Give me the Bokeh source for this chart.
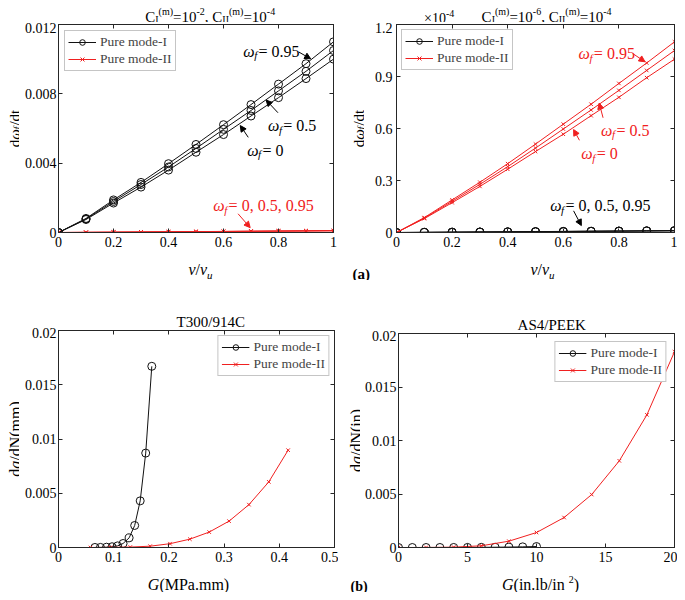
import math
from bokeh.plotting import figure
from bokeh.models import (Label, Arrow, NormalHead, LinearAxis, FixedTicker,
                          Range1d, Legend, LegendItem)
from bokeh.layouts import column, row
from bokeh.embed import file_html
from bokeh.resources import INLINE

# ---------------- data ----------------
v_ratio = [0.0, 0.1, 0.2, 0.3, 0.4, 0.5, 0.6, 0.7, 0.8, 0.9, 1.0]

# (a) left panel: C_I(m)=1e-2, C_II(m)=1e-4  (absolute values)
a1_modeI_w0 = [0, 0.00075, 0.00170, 0.00262, 0.00360, 0.00463, 0.00565, 0.00672, 0.00778, 0.00888, 0.01000]
a1_modeI_w05 = [0, 0.00078, 0.00179, 0.00277, 0.00378, 0.00485, 0.00595, 0.00704, 0.00817, 0.00930, 0.01050]
a1_modeI_w095 = [0, 0.00081, 0.00188, 0.00289, 0.00397, 0.00508, 0.00622, 0.00738, 0.00856, 0.00974, 0.01100]
a1_modeII_w0 = [0, 8.0e-6, 1.72e-5, 2.66e-5, 3.65e-5, 4.67e-5, 5.67e-5, 6.74e-5, 7.80e-5, 8.93e-5, 1.00e-4]
a1_modeII_w05 = [0, 8.3e-6, 1.80e-5, 2.78e-5, 3.80e-5, 4.87e-5, 5.97e-5, 7.07e-5, 8.20e-5, 9.35e-5, 1.05e-4]
a1_modeII_w095 = [0, 8.6e-6, 1.88e-5, 2.90e-5, 3.97e-5, 5.10e-5, 6.25e-5, 7.40e-5, 8.60e-5, 9.78e-5, 1.10e-4]

# (a) right panel: C_I(m)=1e-6, C_II(m)=1e-4  (values in units of 1e-4)
a2_modeI_w0 = [0, 0.00075, 0.00170, 0.00262, 0.00360, 0.00463, 0.00565, 0.00672, 0.00778, 0.00888, 0.01000]
a2_modeI_w05 = [0, 0.00078, 0.00179, 0.00277, 0.00378, 0.00485, 0.00595, 0.00704, 0.00817, 0.00930, 0.01050]
a2_modeI_w095 = [0, 0.00081, 0.00188, 0.00289, 0.00397, 0.00508, 0.00622, 0.00738, 0.00856, 0.00974, 0.01100]
a2_modeII_w0 = [0, 0.080, 0.172, 0.266, 0.365, 0.467, 0.567, 0.674, 0.780, 0.893, 1.000]
a2_modeII_w05 = [0, 0.083, 0.180, 0.278, 0.380, 0.487, 0.597, 0.707, 0.820, 0.935, 1.050]
a2_modeII_w095 = [0, 0.086, 0.188, 0.290, 0.397, 0.510, 0.625, 0.740, 0.860, 0.978, 1.100]

# (b) left panel: T300/914C
b1_modeI_G = [0.066, 0.076, 0.087, 0.097, 0.107, 0.117, 0.128, 0.138, 0.148, 0.158, 0.169]
b1_modeI_rate = [0.000005, 0.00001, 0.00003, 0.00007, 0.00015, 0.00037, 0.00089, 0.00203, 0.0043, 0.0087, 0.0167]
b1_modeII_G = [0.058, 0.094, 0.130, 0.166, 0.202, 0.238, 0.273, 0.309, 0.345, 0.381, 0.416]
b1_modeII_rate = [0.000001, 0.00001, 0.00004, 0.00012, 0.00035, 0.00077, 0.00142, 0.00243, 0.00395, 0.00605, 0.00897]

# (b) right panel: AS4/PEEK
b2_modeI_G = [0, 1, 2, 3, 4, 5, 6, 7, 8, 9, 10]
b2_modeI_rate = [0, 0, 0.000001, 0.000002, 0.000004, 0.000008, 0.000014, 0.000025, 0.00004, 0.00006, 0.00009]
b2_modeII_G = [0, 2, 4, 6, 8, 10, 12, 14, 16, 18, 20]
b2_modeII_rate = [0, 0.000003, 0.00003, 0.00016, 0.00059, 0.0014, 0.0028, 0.00495, 0.0081, 0.0124, 0.0183]

# ticks
a_x_ticks = [0, 0.2, 0.4, 0.6, 0.8, 1.0]
a_x_labels = ["0", "0.2", "0.4", "0.6", "0.8", "1"]
a1_y_ticks = [0, 0.004, 0.008, 0.012]
a1_y_labels = ["0", "0.004", "0.008", "0.012"]
a2_y_ticks = [0, 0.3, 0.6, 0.9, 1.2]
a2_y_labels = ["0", "0.3", "0.6", "0.9", "1.2"]
b1_x_ticks = [0, 0.1, 0.2, 0.3, 0.4, 0.5]
b1_x_labels = ["0", "0.1", "0.2", "0.3", "0.4", "0.5"]
b2_x_ticks = [0, 5, 10, 15, 20]
b2_x_labels = ["0", "5", "10", "15", "20"]
b_y_ticks = [0, 0.005, 0.01, 0.015, 0.02]
b_y_labels = ["0", "0.005", "0.01", "0.015", "0.02"]

# ---------------- style ----------------
FONT = "Liberation Serif"
AX = "#262626"
RED = "#f02020"
BLK = "#111111"

REG = {' ': 250, '(': 333, ')': 333, ',': 250, '-': 333, '.': 250, '/': 278, '=': 564,
       '\u00d7': 564, 'A': 722, 'C': 667, 'E': 611, 'G': 722, 'I': 333, 'K': 722, 'M': 889,
       'N': 722, 'P': 556, 'S': 556, 'T': 611, 'a': 444, 'b': 500, 'd': 500, 'e': 444,
       'i': 278, 'l': 278, 'm': 778, 'n': 500, 'o': 500, 'r': 333, 't': 278, 'u': 500, 'v': 500}
ITA = {'\u03c9': 680, 'f': 400, 'v': 444, 'u': 500, 'G': 722, 'a': 500}


def tw(s, size, style):
    tab = ITA if "italic" in style else REG
    tot = 0
    for ch in s:
        tot += tab.get(ch, REG.get(ch, 500))
    return tot * size / 1000.0


def runs(p, x, y, pieces, angle=0.0, color="black", align="left"):
    total = sum(tw(t, s, st) for t, s, st, sh in pieces)
    off = -total / 2 if align == "center" else 0.0
    for t, s, st, sh in pieces:
        if angle == 0:
            xo, yo = off, sh
        else:
            xo, yo = -sh, off
        p.add_layout(Label(x=x, y=y, text=t, x_offset=xo, y_offset=yo, angle=angle,
                           text_font=FONT, text_font_size=f"{s}px", text_font_style=st,
                           text_color=color, text_align="left", text_baseline="alphabetic"))
        off += tw(t, s, st)


def strip(w, h):
    s = figure(width=w, height=h, x_range=Range1d(0, w), y_range=Range1d(0, h), title=None,
               x_axis_type=None, y_axis_type=None, output_backend="svg", toolbar_location=None,
               min_border_left=0, min_border_right=0, min_border_top=0, min_border_bottom=0)
    s.outline_line_color = None
    s.background_fill_color = "white"
    s.border_fill_color = "white"
    return s


def style_axis(ax, ticks, labels, show=True, standoff=5):
    ax.ticker = FixedTicker(ticks=ticks, minor_ticks=[])
    ax.major_tick_in = 4
    ax.major_tick_out = 0
    ax.minor_tick_in = 0
    ax.minor_tick_out = 0
    ax.major_tick_line_color = AX
    ax.axis_line_color = AX
    ax.major_label_text_font = FONT
    if show:
        ax.major_label_overrides = {t: l for t, l in zip(ticks, labels)}
        ax.major_label_text_font_size = "14px"
        ax.major_label_text_color = "black"
        ax.major_label_standoff = standoff
    else:
        ax.major_label_overrides = {t: "" for t in ticks}
        ax.major_label_text_font_size = "0px"
        ax.major_label_text_color = None
        ax.major_label_standoff = 0


def make_fig(w, h, xr, yr, bl, br, bt, bb, xt, xl, yt, yl, ystand):
    p = figure(width=w, height=h, x_range=Range1d(*xr), y_range=Range1d(*yr), title=None,
               output_backend="svg", toolbar_location=None,
               min_border_left=bl, min_border_right=br, min_border_top=bt, min_border_bottom=bb)
    p.xgrid.visible = False
    p.ygrid.visible = False
    p.outline_line_color = AX
    p.outline_line_width = 1
    p.outline_line_alpha = 1
    style_axis(p.xaxis[0], xt, xl, True, 4)
    style_axis(p.yaxis[0], yt, yl, True, ystand)
    top = LinearAxis()
    style_axis(top, xt, xl, False)
    p.add_layout(top, "above")
    rgt = LinearAxis()
    style_axis(rgt, yt, yl, False)
    p.add_layout(rgt, "right")
    return p


def add_legend(p, r1, r2, loc, margin):
    leg = Legend(items=[LegendItem(label="Pure mode-I", renderers=r1),
                        LegendItem(label="Pure mode-II", renderers=r2)],
                 location=loc, margin=margin, padding=3, spacing=1,
                 glyph_width=28, glyph_height=14, label_height=14, label_standoff=4,
                 label_text_font=FONT, label_text_font_size="13.5px",
                 border_line_color="#8c8c8c", border_line_width=1,
                 background_fill_color="white", background_fill_alpha=1)
    p.add_layout(leg)


def curve(p, x, y, color, marker, size):
    l = p.line(x, y, line_color=color, line_width=1)
    s = p.scatter(x, y, marker=marker, size=size, line_color=color, fill_color=None, line_width=1)
    return [l, s]


def arrow(p, x0, y0, x1, y1, color):
    p.add_layout(Arrow(end=NormalHead(size=6, fill_color=color, line_color=color, line_width=1),
                       x_start=x0, y_start=y0, x_end=x1, y_end=y1,
                       line_color=color, line_width=1))


def omega(p, x, y, rest, color):
    runs(p, x, y, [("\u03c9", 16, "italic", 0), ("f", 11, "italic", -4), (rest, 16, "normal", 0)],
         color=color)


def ylabel_dw(s, x, y):
    pieces = [("d", 15, "normal", 0), ("\u03c9", 15, "italic", 0), ("f", 10, "italic", -3),
              ("/dt", 15, "normal", 0)]
    runs(s, x, y, pieces, angle=math.pi / 2, align="center")


def xlabel_v(s, x, y):
    pieces = [("v", 16, "italic", 0), ("/", 16, "normal", 0), ("v", 16, "italic", 0),
              ("u", 11, "italic", -5)]
    runs(s, x, y, pieces, align="center")


def title_c(s, x, y, e1, e2):
    pieces = [("C", 15, "normal", 0), ("I", 10, "normal", -3), ("(m)", 10, "normal", 5),
              ("=10", 15, "normal", 0), (e1, 10, "normal", 5),
              (", C", 15, "normal", 0), ("II", 10, "normal", -3), ("(m)", 10, "normal", 5),
              ("=10", 15, "normal", 0), (e2, 10, "normal", 5)]
    runs(s, x, y, pieces, align="center")


# ---------------- (a) left ----------------
p1 = make_fig(319, 230, (0, 1), (0, 0.012), 39, 5, 2, 20,
              a_x_ticks, a_x_labels, a1_y_ticks, a1_y_labels, 2)
rI = curve(p1, v_ratio, a1_modeI_w0, BLK, "circle", 8)
curve(p1, v_ratio, a1_modeI_w05, BLK, "circle", 8)
curve(p1, v_ratio, a1_modeI_w095, BLK, "circle", 8)
rII = curve(p1, v_ratio, a1_modeII_w0, RED, "x", 5)
curve(p1, v_ratio, a1_modeII_w05, RED, "x", 5)
curve(p1, v_ratio, a1_modeII_w095, RED, "x", 5)
add_legend(p1, rI, rII, "top_left", 6)
omega(p1, 0.672, 0.01047, " = 0.95", "black")
arrow(p1, 0.874, 0.01041, 0.917, 0.01002, "black")
omega(p1, 0.762, 0.00617, " = 0.5", "black")
arrow(p1, 0.798, 0.00691, 0.755, 0.00764, "black")
omega(p1, 0.686, 0.00475, " = 0", "black")
arrow(p1, 0.690, 0.00549, 0.661, 0.00617, "black")
omega(p1, 0.563, 0.00153, " = 0, 0.5, 0.95", RED)
arrow(p1, 0.653, 0.00108, 0.697, 0.00028, RED)

t1 = strip(319, 22)
title_c(t1, 176, 6, "-2", "-4")
y1 = strip(19, 252)
ylabel_dw(y1, 14, 124)
x1 = strip(338, 28)
xlabel_v(x1, 200, 11)
panel_a1 = column(row(y1, column(t1, p1)), x1)

# ---------------- (a) right ----------------
p2 = make_fig(313, 230, (0, 1), (0, 1.2), 32, 3, 2, 20,
              a_x_ticks, a_x_labels, a2_y_ticks, a2_y_labels, 4)
rI2 = curve(p2, v_ratio, a2_modeI_w0, BLK, "circle", 8)
curve(p2, v_ratio, a2_modeI_w05, BLK, "circle", 8)
curve(p2, v_ratio, a2_modeI_w095, BLK, "circle", 8)
rII2 = curve(p2, v_ratio, a2_modeII_w0, RED, "x", 5)
curve(p2, v_ratio, a2_modeII_w05, RED, "x", 5)
curve(p2, v_ratio, a2_modeII_w095, RED, "x", 5)
add_legend(p2, rI2, rII2, "top_left", 5)
omega(p2, 0.655, 1.030, " = 0.95", RED)
arrow(p2, 0.852, 1.030, 0.894, 0.985, RED)
omega(p2, 0.736, 0.589, " = 0.5", RED)
arrow(p2, 0.743, 0.662, 0.729, 0.747, RED)
omega(p2, 0.665, 0.453, " = 0", RED)
arrow(p2, 0.658, 0.532, 0.637, 0.594, RED)
omega(p2, 0.553, 0.153, " = 0, 0.5, 0.95", "black")
arrow(p2, 0.637, 0.125, 0.665, 0.040, "black")

t2 = strip(313, 22)
title_c(t2, 169, 6, "-6", "-4")
runs(t2, 31, 4, [("\u00d710", 14, "normal", 0), ("-4", 10, "normal", 5)])
y2 = strip(26, 252)
ylabel_dw(y2, 20, 124)
x2 = strip(339, 28)
xlabel_v(x2, 204, 11)
runs(x2, 14, 7, [("(a)", 15, "bold", 0)])
panel_a2 = column(row(y2, column(t2, p2)), x2)

# ---------------- (b) left ----------------
p3 = make_fig(319, 240, (0, 0.5), (0, 0.02), 39, 4, 3, 20,
              b1_x_ticks, b1_x_labels, b_y_ticks, b_y_labels, 2)
r3a = curve(p3, b1_modeI_G, b1_modeI_rate, BLK, "circle", 8)
r3b = curve(p3, b1_modeII_G, b1_modeII_rate, RED, "x", 5)
add_legend(p3, r3a, r3b, "top_right", 5)

t3 = strip(319, 47)
runs(t3, 176, 6, [("T300/914C", 15, "normal", 0)], align="center")
y3 = strip(19, 287)
runs(y3, 15, 128.5, [("d", 16, "normal", 0), ("a", 16, "italic", 0), ("/dN(mm)", 16, "normal", 0)],
     angle=math.pi / 2, align="center")
x3 = strip(338, 25)
runs(x3, 190, 8, [("G", 16, "italic", 0), (" (MPa.mm)", 16, "normal", 0)], align="center")
panel_b1 = column(row(y3, column(t3, p3)), x3)

# ---------------- (b) right ----------------
p4 = make_fig(317, 237, (0, 20), (0, 0.02), 38, 3, 3, 20,
              b2_x_ticks, b2_x_labels, b_y_ticks, b_y_labels, 2)
r4a = curve(p4, b2_modeI_G, b2_modeI_rate, BLK, "circle", 8)
r4b = curve(p4, b2_modeII_G, b2_modeII_rate, RED, "x", 5)
add_legend(p4, r4a, r4b, "top_right", 8)

t4 = strip(317, 50)
runs(t4, 176, 6, [("AS4/PEEK", 15, "normal", 0)], align="center")
y4 = strip(22, 287)
runs(y4, 18, 127, [("d", 16, "normal", 0), ("a", 16, "italic", 0), ("/dN(in)", 16, "normal", 0)],
     angle=math.pi / 2, align="center")
x4 = strip(339, 25)
runs(x4, 202, 8, [("G", 16, "italic", 0), (" (in.lb/in", 16, "normal", 0),
                  ("2", 10, "normal", 5), (")", 16, "normal", 0)], align="center")
runs(x4, 12, 6, [("(b)", 14, "bold", 0)])
panel_b2 = column(row(y4, column(t4, p4)), x4)

layout = column(row(panel_a1, panel_a2), row(panel_b1, panel_b2))
open("out.html", "w").write(file_html(layout, INLINE))
